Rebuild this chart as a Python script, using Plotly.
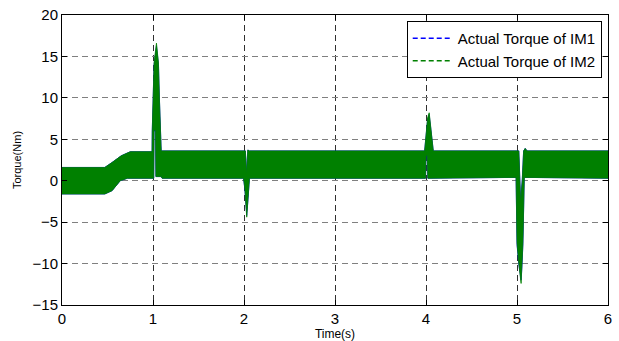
import plotly.graph_objects as go

# Envelope of the (high-frequency) torque oscillation band
t_upper = [0.0, 0.47, 0.55, 0.65, 0.75, 0.99, 0.992, 0.998, 1.012, 1.038, 1.060, 1.070, 1.082, 1.090,
           2.015, 2.028, 2.042, 2.06, 3.985, 3.998, 4.018, 4.035, 4.05, 4.062, 4.08,
           5.02, 5.028, 5.04, 5.058, 5.073, 5.09, 5.11, 6.0]
im2_upper = [1.6, 1.6, 2.2, 3.0, 3.5, 3.5, 6.1, 10.1, 14.2, 16.6, 14.2, 10.1, 6.1, 3.6,
             3.6, 0.8, 3.7, 3.6, 3.6, 5.2, 7.6, 8.2, 6.5, 5.0, 3.6,
             3.6, 0.0, -2.7, 0.0, 3.6, 3.9, 3.6, 3.6]
im1_upper = [1.6, 1.6, 2.2, 3.0, 3.5, 3.5, 6.0, 10.0, 14.0, 16.3, 14.0, 10.0, 6.0, 3.6,
             3.6, 0.9, 3.7, 3.6, 3.6, 5.1, 7.4, 8.0, 6.4, 4.9, 3.6,
             3.6, 0.2, -2.5, 0.2, 3.6, 3.9, 3.6, 3.6]

t_lower = [0.0, 0.47, 0.55, 0.64, 0.72, 1.008, 1.012, 1.028, 1.032, 1.09, 1.10,
           1.995, 2.01, 2.03, 2.045, 2.06, 3.995, 4.0, 4.015, 4.02,
           4.99, 5.0, 5.02, 5.045, 5.055, 5.065, 5.075, 5.08, 6.0]
im2_lower = [-1.6, -1.6, -1.2, 0.0, 0.3, 0.3, 6.1, 6.1, 0.5, 0.5, 0.3,
             0.3, -1.0, -4.4, -2.0, 0.3, 0.3, 3.0, 3.0, 0.3,
             0.4, -7.5, -10.0, -12.4, -10.0, -7.5, -3.0, 0.4, 0.3]
im1_lower = [-1.6, -1.6, -1.2, 0.0, 0.3, 0.3, 6.0, 6.0, 0.5, 0.5, 0.3,
             0.3, -1.1, -4.2, -2.1, 0.3, 0.3, 3.0, 3.0, 0.3,
             0.4, -7.7, -10.1, -12.0, -10.2, -7.6, -3.1, 0.4, 0.3]

series_names = ["Actual Torque of IM1", "Actual Torque of IM2"]
series_colors = ["#0000ff", "#008000"]

x_ticks = [0, 1, 2, 3, 4, 5, 6]
y_ticks = [-15, -10, -5, 0, 5, 10, 15, 20]

fig = go.Figure()

bands = [(im1_upper, im1_lower), (im2_upper, im2_lower)]
for (up, lo), name, col in zip(bands, series_names, series_colors):
    fig.add_trace(go.Scatter(
        x=t_upper + t_lower[::-1], y=up + lo[::-1],
        mode="lines", fill="toself", fillcolor=col,
        line=dict(color=col, width=0.8), showlegend=False, hoverinfo="skip"))

for name, col in zip(series_names, series_colors):
    fig.add_trace(go.Scatter(x=[None], y=[None], mode="lines", name=name,
                             line=dict(color=col, width=1.5, dash="5px,3px")))

font_family = "Liberation Sans, Arial, sans-serif"

fig.update_layout(
    width=619, height=341,
    margin=dict(l=62, r=11, t=15, b=36),
    paper_bgcolor="white", plot_bgcolor="white",
    font=dict(family=font_family, size=15, color="black"),
    showlegend=True,
    legend=dict(x=0.9885, y=0.979, xanchor="right", yanchor="top",
                bgcolor="white", bordercolor="black", borderwidth=1,
                font=dict(size=15, family=font_family),
                tracegroupgap=0, itemwidth=40),
    xaxis=dict(range=[0, 6], tickvals=x_ticks, ticks="inside", ticklen=5,
               tickcolor="black", showline=True, linecolor="black", linewidth=1,
               mirror="ticks", showgrid=True, gridcolor="#303030", griddash="6px,4px",
               gridwidth=1, zeroline=False, automargin=False, ticklabeloverflow="allow",
               tickfont=dict(size=15),
               title=dict(text="Time(s)", font=dict(size=12), standoff=0)),
    yaxis=dict(range=[-15, 20], tickvals=y_ticks, ticks="inside", ticklen=5,
               tickcolor="black", showline=True, linecolor="black", linewidth=1,
               mirror="ticks", showgrid=True, gridcolor="#808080", griddash="6px,4px",
               gridwidth=1, zeroline=False, automargin=False, ticklabeloverflow="allow",
               tickfont=dict(size=15),
               title=dict(text="Torque(Nm)", font=dict(size=11), standoff=8)),
)

fig.write_html("out.html", config={"displayModeBar": False},
               post_script="document.body.style.margin='0';")
